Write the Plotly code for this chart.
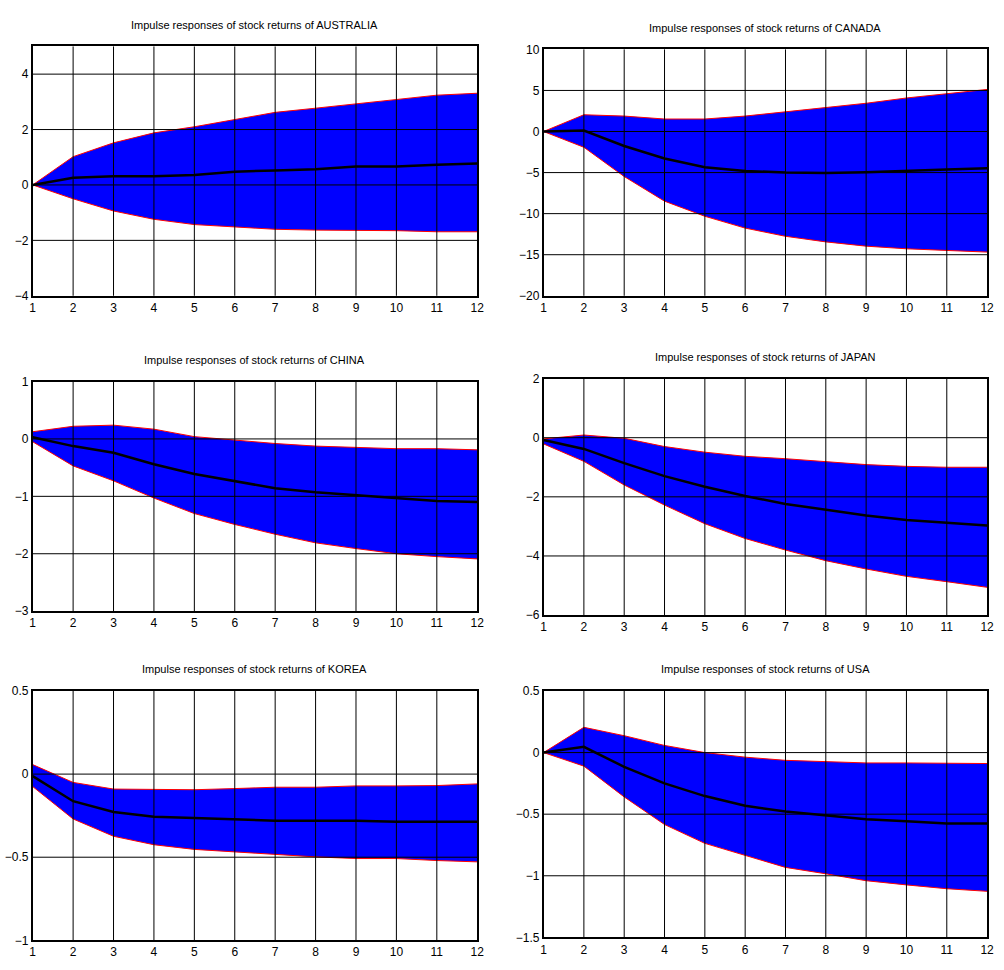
import plotly.graph_objects as go

horizon = list(range(1, 13))
x_ticks = list(range(1, 13))

countries = ["AUSTRALIA", "CANADA", "CHINA", "JAPAN", "KOREA", "USA"]

aus_upper = [0, 1.02, 1.52, 1.88, 2.10, 2.36, 2.62, 2.77, 2.92, 3.07, 3.24, 3.31]
aus_mean = [0, 0.26, 0.31, 0.31, 0.36, 0.48, 0.52, 0.57, 0.67, 0.67, 0.73, 0.77]
aus_lower = [0, -0.50, -0.94, -1.24, -1.43, -1.52, -1.60, -1.63, -1.64, -1.65, -1.69, -1.69]

can_upper = [0, 2.04, 1.88, 1.52, 1.52, 1.88, 2.40, 2.92, 3.44, 4.08, 4.64, 5.12]
can_mean = [0, 0.12, -1.76, -3.28, -4.36, -4.80, -5.00, -5.04, -4.96, -4.84, -4.64, -4.48]
can_lower = [0, -1.92, -5.48, -8.48, -10.32, -11.76, -12.76, -13.44, -13.96, -14.28, -14.48, -14.68]

chn_upper = [0.125, 0.22, 0.24, 0.17, 0.04, -0.02, -0.08, -0.125, -0.15, -0.17, -0.17, -0.19]
chn_mean = [0.03, -0.125, -0.24, -0.44, -0.61, -0.74, -0.86, -0.93, -0.98, -1.02, -1.08, -1.10]
chn_lower = [-0.05, -0.47, -0.73, -1.03, -1.30, -1.49, -1.66, -1.81, -1.91, -2.00, -2.05, -2.09]

jpn_upper = [-0.04, 0.09, -0.02, -0.30, -0.49, -0.63, -0.71, -0.82, -0.91, -0.97, -1.00, -1.00]
jpn_mean = [-0.08, -0.38, -0.86, -1.30, -1.66, -1.97, -2.24, -2.43, -2.63, -2.78, -2.87, -2.97]
jpn_lower = [-0.21, -0.80, -1.60, -2.28, -2.91, -3.41, -3.80, -4.16, -4.44, -4.69, -4.87, -5.06]

kor_upper = [0.057, -0.05, -0.09, -0.094, -0.094, -0.087, -0.079, -0.079, -0.071, -0.071, -0.069, -0.059]
kor_mean = [-0.012, -0.163, -0.228, -0.256, -0.264, -0.272, -0.280, -0.280, -0.281, -0.287, -0.287, -0.287]
kor_lower = [-0.075, -0.27, -0.374, -0.425, -0.453, -0.469, -0.484, -0.498, -0.508, -0.508, -0.520, -0.528]

usa_upper = [0, 0.205, 0.137, 0.058, 0.0, -0.037, -0.063, -0.071, -0.084, -0.084, -0.089, -0.089]
usa_mean = [0, 0.047, -0.116, -0.25, -0.353, -0.432, -0.479, -0.51, -0.542, -0.558, -0.576, -0.576]
usa_lower = [0, -0.11, -0.36, -0.584, -0.737, -0.834, -0.932, -0.984, -1.04, -1.074, -1.105, -1.126]

aus_yticks = [-4, -2, 0, 2, 4]
can_yticks = [-20, -15, -10, -5, 0, 5, 10]
chn_yticks = [-3, -2, -1, 0, 1]
jpn_yticks = [-6, -4, -2, 0, 2]
kor_yticks = [-1, -0.5, 0, 0.5]
usa_yticks = [-1.5, -1, -0.5, 0, 0.5]

aus_range = [-4, 5]
can_range = [-20, 10]
chn_range = [-3, 1]
jpn_range = [-6, 2]
kor_range = [-1, 0.5]
usa_range = [-1.5, 0.5]

panels = [
    (aus_upper, aus_mean, aus_lower, aus_yticks, aus_range),
    (can_upper, can_mean, can_lower, can_yticks, can_range),
    (chn_upper, chn_mean, chn_lower, chn_yticks, chn_range),
    (jpn_upper, jpn_mean, jpn_lower, jpn_yticks, jpn_range),
    (kor_upper, kor_mean, kor_lower, kor_yticks, kor_range),
    (usa_upper, usa_mean, usa_lower, usa_yticks, usa_range),
]

W, H = 1004, 970
# pixel boxes (left, right, top, bottom)
boxes = [
    (30, 479, 40, 293),
    (546, 994, 43, 293),
    (30, 479, 380, 613),
    (546, 994, 377, 617),
    (30, 479, 694, 947),
    (546, 994, 694, 944),
]
title_y = [18, 21, 358, 355, 672, 672]

FONT = "Liberation Sans Narrow, Arial Narrow, Liberation Sans, Arial, sans-serif"

fig = go.Figure()
layout = dict(
    width=W, height=H,
    margin=dict(l=0, r=0, t=0, b=0),
    paper_bgcolor="white", plot_bgcolor="white",
    showlegend=False,
    font=dict(family=FONT, size=12, color="black"),
)
shapes = []
annotations = []

for i, ((up, mn, lo, yt, yr), (l, r, t, b)) in enumerate(zip(panels, boxes)):
    n = "" if i == 0 else str(i + 1)
    xa, ya = "x" + n, "y" + n
    fig.add_trace(go.Scatter(x=horizon, y=lo, mode="lines", line=dict(color="red", width=1),
                             xaxis=xa, yaxis=ya, hoverinfo="skip"))
    fig.add_trace(go.Scatter(x=horizon, y=up, mode="lines", line=dict(color="red", width=1),
                             fill="tonexty", fillcolor="#0000FF", xaxis=xa, yaxis=ya))
    fig.add_trace(go.Scatter(x=horizon, y=mn, mode="lines", line=dict(color="black", width=2.5),
                             xaxis=xa, yaxis=ya))
    layout["xaxis" + n] = dict(
        domain=[l / W, r / W], anchor=ya, range=[1, 12], tickvals=x_ticks,
        showgrid=False, zeroline=False, showline=True, mirror=True, linecolor="black",
        linewidth=1.5, ticks="", tickfont=dict(size=12, family=FONT),
    )
    layout["yaxis" + n] = dict(
        domain=[1 - b / H, 1 - t / H], anchor=xa, range=yr, tickvals=yt,
        showgrid=False, zeroline=False, showline=True, mirror=True, linecolor="black",
        linewidth=1.5, ticks="", tickfont=dict(size=12, family=FONT),
    )
    for xv in x_ticks[1:-1]:
        shapes.append(dict(type="line", xref=xa, yref=ya + " domain", x0=xv, x1=xv, y0=0, y1=1,
                           line=dict(color="black", width=1), layer="above"))
    for yv in yt:
        if yr[0] < yv < yr[1]:
            shapes.append(dict(type="line", xref=xa + " domain", yref=ya, x0=0, x1=1, y0=yv, y1=yv,
                               line=dict(color="black", width=1), layer="above"))
    annotations.append(dict(
        text="Impulse responses of stock returns of " + countries[i],
        xref="paper", yref="paper", x=(l + r) / 2 / W, y=1 - title_y[i] / H,
        showarrow=False, xanchor="center", yanchor="middle",
        font=dict(size=11, family=FONT, color="black"),
    ))

layout["shapes"] = shapes
layout["annotations"] = annotations
fig.update_layout(**layout)
fig.write_html(
    "out.html",
    config={"displayModeBar": False},
    post_script="document.body.style.margin='0';document.body.style.overflow='hidden';",
)
